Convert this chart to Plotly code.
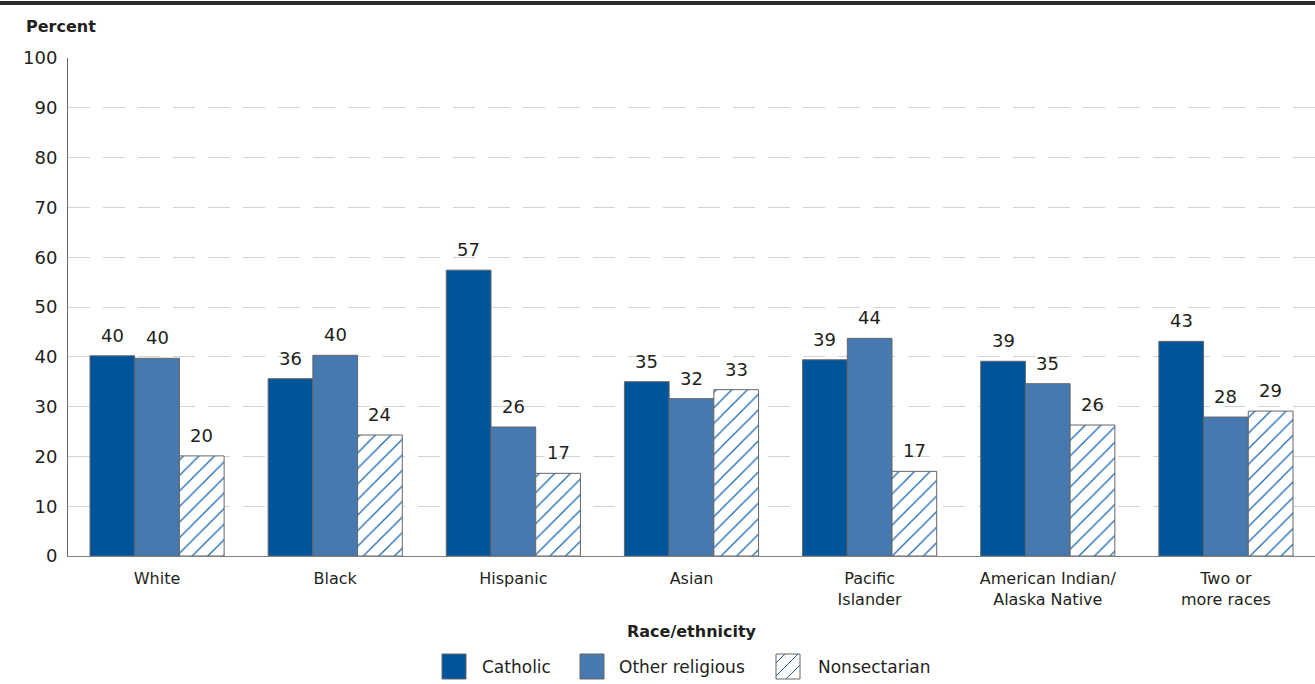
import plotly.graph_objects as go

categories = ["White", "Black", "Hispanic", "Asian", "Pacific<br>Islander",
              "American Indian/<br>Alaska Native", "Two or<br>more races"]
catholic = [40.2, 35.6, 57.4, 35.0, 39.4, 39.1, 43.1]
other_religious = [39.7, 40.3, 25.9, 31.6, 43.7, 34.6, 27.9]
nonsectarian = [20.1, 24.3, 16.6, 33.4, 17.0, 26.3, 29.1]
series_names = ["Catholic", "Other religious", "Nonsectarian"]
y_ticks = [0, 10, 20, 30, 40, 50, 60, 70, 80, 90, 100]

FONT = "DejaVu Sans"
TXT = "#231f20"
C_CATH = "#00559a"
C_OTHER = "#4579b0"
C_HATCH = "#1565b3"
OUTLINE = "#666666"

# plot-area geometry (pixels)
L, R, T, B = 68, 0, 58, 128
W, H = 1315, 684
PW, PH = W - L - R, H - T - B
BARGAP = 0.247


def px(x):
    return (x - L) / PW


def py(y):
    return (H - B - y) / PH


fig = go.Figure()
marker_line = dict(color=OUTLINE, width=1)
fig.add_bar(x=categories, y=catholic, name=series_names[0], showlegend=False,
            marker=dict(color=C_CATH, line=marker_line))
fig.add_bar(x=categories, y=other_religious, name=series_names[1], showlegend=False,
            marker=dict(color=C_OTHER, line=marker_line))
fig.add_bar(x=categories, y=nonsectarian, name=series_names[2], showlegend=False,
            marker=dict(color="white", line=marker_line,
                        pattern=dict(shape="/", fgcolor=C_HATCH, bgcolor="white",
                                     size=11, solidity=0.11, fgopacity=1)))

annotations = []
# value labels above bars
bar_w = PW / len(categories) * (1 - BARGAP) / 3
for k, vals in enumerate([catholic, other_religious, nonsectarian]):
    for c, v in zip(categories, vals):
        annotations.append(dict(x=c, y=v, text=f"{v:.0f}", xref="x", yref="y",
                                xshift=(k - 1) * bar_w, yshift=8, yanchor="bottom",
                                showarrow=False,
                                font=dict(family=FONT, size=18, color=TXT)))

annotations.append(dict(text="<b>Percent</b>", xref="paper", yref="paper", x=px(24), y=py(27),
                        xanchor="left", yanchor="middle", showarrow=False,
                        font=dict(family=FONT, size=16, color=TXT)))

# manual legend (large swatches as in reference)
shapes = [dict(type="line", xref="paper", yref="paper", x0=px(-5), x1=px(1320),
               y0=py(3), y1=py(3), line=dict(color="#2b2b2b", width=4))]
sw_y0, sw_y1 = 654, 679
legend_items = [(442, 480, C_CATH), (580, 617, C_OTHER), (776, 816, None)]
for (sx, tx, col), name in zip(legend_items, series_names):
    shapes.append(dict(type="rect", xref="paper", yref="paper",
                       x0=px(sx), x1=px(sx + 24), y0=py(sw_y1), y1=py(sw_y0),
                       fillcolor=col if col else "white",
                       line=dict(color=OUTLINE, width=1)))
    if col is None:
        x0, x1, y0, y1 = sx, sx + 24, sw_y0, sw_y1
        path = ""
        for cc in [x0 + y0 + 9, x0 + y0 + 22, x0 + y0 + 35]:
            xa, xb = max(x0, cc - y1), min(x1, cc - y0)
            if xb > xa:
                path += f"M{px(xa)},{py(cc - xa)} L{px(xb)},{py(cc - xb)} "
        shapes.append(dict(type="path", xref="paper", yref="paper", path=path,
                           line=dict(color=C_HATCH, width=1)))
    annotations.append(dict(text=name, xref="paper", yref="paper", x=px(tx),
                            y=py((sw_y0 + sw_y1) / 2), xanchor="left", yanchor="middle",
                            showarrow=False, font=dict(family=FONT, size=17, color=TXT)))

fig.update_layout(
    width=W, height=H,
    margin=dict(l=L, r=R, t=T, b=B),
    paper_bgcolor="white", plot_bgcolor="white",
    barmode="group", bargap=BARGAP, bargroupgap=0,
    font=dict(family=FONT, size=17, color=TXT),
    showlegend=False,
    xaxis=dict(showgrid=False, showline=True, linecolor="#808080", linewidth=1,
               ticks="", ticklabelstandoff=8,
               tickfont=dict(family=FONT, size=16, color=TXT),
               title=dict(text="<b>Race/ethnicity</b>", font=dict(family=FONT, size=16, color=TXT),
                          standoff=17)),
    yaxis=dict(range=[0, 100], tickvals=y_ticks, showline=True, linecolor="#666666",
               linewidth=1, showgrid=True, gridcolor="#d3d3d3", gridwidth=1,
               griddash="22px,13px", zeroline=False, ticks="",
               ticklabelstandoff=6,
               tickfont=dict(family=FONT, size=18, color=TXT)),
    shapes=shapes,
    annotations=annotations,
)
fig.write_html("out.html")
